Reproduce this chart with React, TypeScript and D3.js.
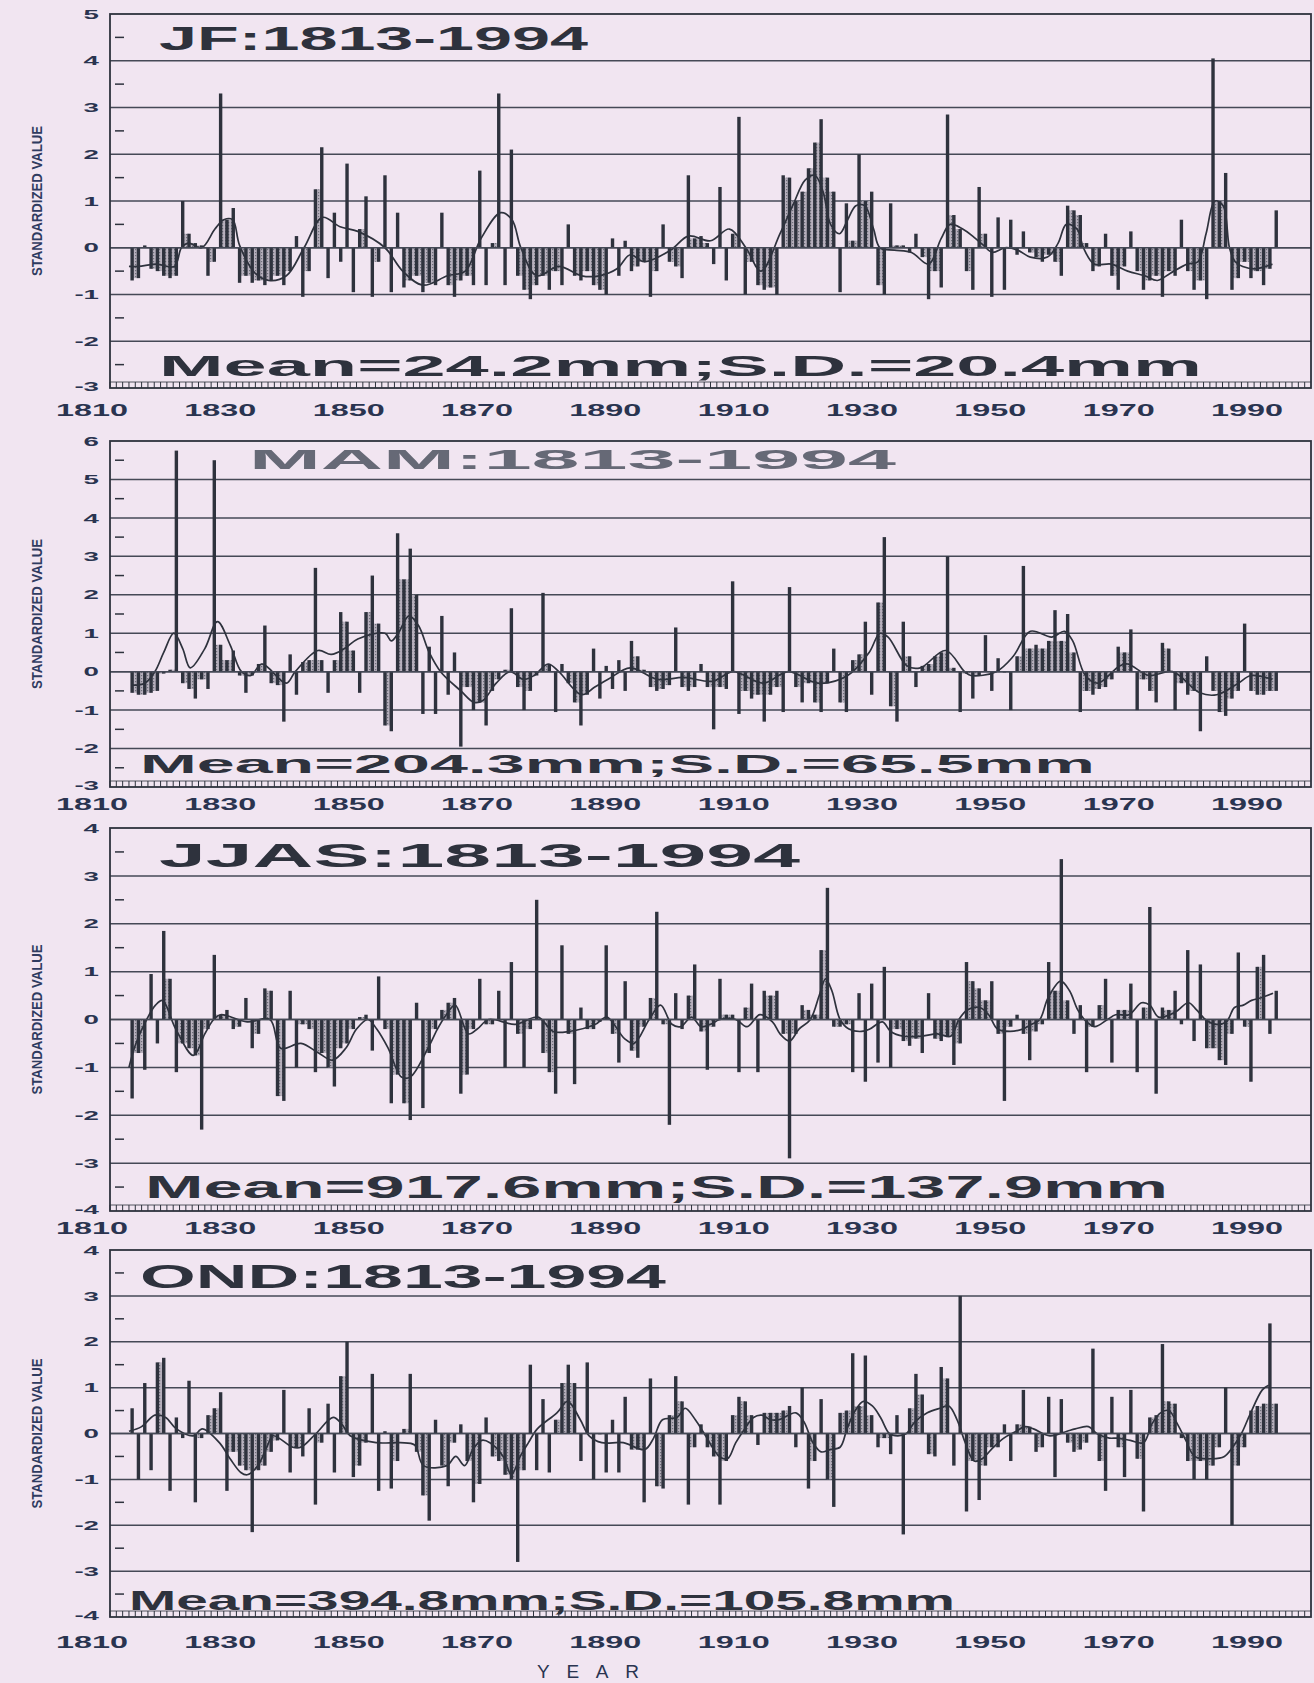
import React from 'react';
import * as d3 from 'd3';

const FIRST_YEAR = 1813;

const jfValues = [
  -0.7, -0.65, 0.05, -0.45, -0.5, -0.6, -0.65, -0.6, 1.0, 0.3,
  0.1, 0.05, -0.6, -0.3, 3.3, 0.6, 0.85, -0.75, -0.6, -0.75,
  -0.7, -0.8, -0.7, -0.6, -0.8, -0.5, 0.25, -1.05, -0.5, 1.25,
  2.15, -0.65, 0.75, -0.3, 1.8, -0.95, 0.4, 1.1, -1.05, -0.3,
  1.55, -0.95, 0.75, -0.85, -0.7, -0.6, -0.95, -0.75, -0.8, 0.75,
  -0.8, -1.05, -0.7, -0.6, -0.8, 1.65, -0.8, 0.1, 3.3, -0.8,
  2.1, -0.6, -0.9, -1.1, -0.8, -0.6, -0.9, -0.5, -0.8, 0.5,
  -0.6, -0.7, -0.5, -0.8, -0.9, -1.0, 0.2, -0.6, 0.15, -0.5,
  -0.4, -0.3, -1.05, -0.5, 0.5, -0.3, -0.4, -0.65, 1.55, 0.2,
  0.25, 0.1, -0.35, 1.3, -0.7, 0.3, 2.8, -1.0, -0.3, -0.8,
  -0.9, -0.85, -1.0, 1.55, 1.5, 1.0, 1.2, 1.7, 2.25, 2.75,
  1.5, 1.2, -0.95, 0.95, 0.15, 2.0, 1.0, 1.2, -0.8, -1.0,
  0.95, 0.05, 0.05, -0.1, 0.3, -0.2, -1.1, -0.5, -0.85, 2.85,
  0.7, 0.4, -0.5, -0.9, 1.3, 0.3, -1.05, 0.65, -0.9, 0.6,
  -0.15, 0.35, -0.1, -0.2, -0.3, -0.15, -0.3, -0.6, 0.9, 0.8,
  0.7, 0.1, -0.5, -0.4, 0.3, -0.6, -0.9, -0.4, 0.35, -0.5,
  -0.9, -0.7, -0.6, -1.05, -0.5, -0.6, 0.6, -0.5, -0.9, -0.7,
  -1.1, 4.05, 1.0, 1.6, -0.9, -0.65, -0.3, -0.65, -0.5, -0.8,
  -0.45, 0.8,
];

const mamValues = [
  -0.55, -0.6, -0.6, -0.55, -0.5, -0.05, 0.05, 5.75, -0.3, -0.45,
  -0.7, -0.2, -0.45, 5.5, 0.7, 0.3, 0.55, -0.1, -0.55, -0.1,
  0.2, 1.2, -0.3, -0.35, -1.3, 0.45, -0.6, 0.25, 0.3, 2.7,
  0.3, -0.55, 0.3, 1.55, 1.3, 0.55, -0.55, 1.55, 2.5, 1.25,
  -1.4, -1.55, 3.6, 2.4, 3.2, 2.0, -1.1, 0.65, -1.1, 1.45,
  -0.6, 0.5, -1.95, -0.4, -1.0, -0.8, -1.4, -0.5, -0.2, 0.05,
  1.65, -0.4, -1.0, -0.5, -0.1, 2.05, 0.2, -1.05, 0.2, -0.3,
  -0.8, -1.4, -0.6, 0.6, -0.7, 0.15, -0.45, 0.3, -0.5, 0.8,
  0.4, 0.05, -0.4, -0.5, -0.45, -0.35, 1.15, -0.4, -0.5, -0.4,
  0.2, -0.4, -1.5, -0.4, -0.45, 2.35, -1.1, -0.5, -0.7, -0.6,
  -1.3, -0.6, -0.4, -1.05, 2.2, -0.4, -0.8, -0.3, -0.8, -1.05,
  -0.3, 0.6, -0.8, -1.05, 0.3, 0.45, 1.3, -0.6, 1.8, 3.5,
  -0.9, -1.3, 1.3, 0.4, -0.4, 0.15, 0.2, 0.4, 0.5, 3.0,
  0.1, -1.05, -0.05, -0.7, -0.1, 0.95, -0.5, 0.35, 0.0, -1.0,
  0.4, 2.75, 0.6, 0.7, 0.6, 0.8, 1.6, 0.8, 1.5, 0.5,
  -1.05, -0.5, -0.6, -0.45, -0.4, -0.2, 0.65, 0.5, 1.1, -1.0,
  -0.2, -0.5, -0.8, 0.75, 0.6, -1.0, -0.3, -0.6, -0.5, -1.55,
  0.4, -0.5, -1.05, -1.15, -0.7, -0.5, 1.25, -0.5, -0.6, -0.6,
  -0.5, -0.5,
];

const jjasValues = [
  -1.65, -0.7, -1.05, 0.95, -0.5, 1.85, 0.85, -1.1, -0.5, -0.6,
  -0.75, -2.3, -0.2, 1.35, 0.1, 0.2, -0.2, -0.15, 0.45, -0.6,
  -0.3, 0.65, 0.6, -1.6, -1.7, 0.6, -1.0, -0.1, -0.2, -1.1,
  -0.7, -1.0, -1.4, -0.6, -0.5, -0.2, 0.05, 0.1, -0.65, 0.9,
  -0.2, -1.75, -1.15, -1.75, -2.1, 0.35, -1.85, -0.7, -0.2, 0.2,
  0.35, 0.45, -1.55, -1.15, -0.2, 0.85, -0.1, -0.1, 0.6, -1.0,
  1.2, -0.3, -1.0, -0.2, 2.5, -0.7, -1.1, -1.55, 1.55, -0.3,
  -1.35, 0.25, -0.2, -0.2, -0.05, 1.55, -0.3, -0.9, 0.8, -0.65,
  -0.8, -0.15, 0.45, 2.25, -0.1, -2.2, 0.55, -0.2, 0.5, 1.15,
  -0.25, -1.05, -0.15, 0.85, 0.1, 0.1, -1.1, 0.25, 0.75, -1.1,
  0.6, 0.5, 0.6, -0.3, -2.9, -0.3, 0.3, 0.2, 0.1, 1.45,
  2.75, -0.15, -0.15, -0.1, -1.1, 0.55, -1.3, 0.75, -0.9, 1.1,
  -1.0, -0.2, -0.45, -0.55, -0.4, -0.7, 0.55, -0.4, -0.45, -0.35,
  -0.95, -0.5, 1.2, 0.8, 0.65, 0.4, 0.8, -0.3, -1.7, -0.15,
  0.1, -0.3, -0.85, -0.25, -0.1, 1.2, 0.6, 3.35, 0.4, -0.3,
  0.3, -1.1, -0.15, 0.3, 0.85, -0.9, 0.2, 0.2, 0.75, -1.1,
  0.25, 2.35, -1.55, 0.25, 0.2, 0.6, -0.1, 1.45, -0.45, 1.15,
  -0.6, -0.6, -0.85, -0.95, -0.3, 1.4, -0.15, -1.3, 1.1, 1.35,
  -0.3, 0.6,
];

const ondValues = [
  0.55, -1.0, 1.1, -0.8, 1.55, 1.65, -1.25, 0.35, -0.1, 1.15,
  -1.5, -0.1, 0.4, 0.55, 0.9, -1.25, -0.4, -0.7, -0.8, -2.15,
  -0.8, -0.7, -0.4, -0.15, 0.95, -0.85, -0.3, -0.5, 0.55, -1.55,
  -0.2, 0.65, -0.85, 1.25, 2.0, -0.95, -0.7, -0.2, 1.3, -1.25,
  0.05, -1.2, -0.6, 0.1, 1.3, -0.4, -1.35, -1.9, 0.3, -0.7,
  -1.15, -0.2, 0.2, -0.6, -1.5, -1.1, 0.35, -0.5, -0.6, -0.9,
  -1.0, -2.8, -0.8, 1.5, -0.8, 0.75, -0.85, 0.3, 1.1, 1.5,
  1.1, -0.6, 1.55, -1.0, 0.0, -0.85, 0.3, -0.85, 0.8, -0.35,
  -0.35, -1.5, 1.2, -1.15, -1.2, 0.4, 1.25, 0.7, -1.55, -0.3,
  0.2, -0.3, -0.5, -1.55, -0.6, 0.4, 0.8, 0.7, 0.4, -0.25,
  0.45, 0.45, 0.45, 0.5, 0.6, -0.3, 1.0, -1.2, -0.6, 0.75,
  -1.0, -1.6, 0.45, 0.5, 1.75, 0.6, 1.7, 0.4, -0.3, -0.1,
  -0.45, 0.4, -2.2, 0.55, 1.3, 0.85, -0.45, -0.5, 1.45, 1.2,
  -0.7, 3.0, -1.7, -0.6, -1.45, -0.7, -0.3, -0.3, 0.2, -0.6,
  0.2, 0.95, 0.15, -0.4, -0.3, 0.8, -0.95, 0.75, -0.2, -0.4,
  -0.35, -0.2, 1.85, -0.6, -1.25, 0.8, -0.3, -0.95, 0.95, -0.55,
  -1.7, 0.35, 0.4, 1.95, 0.7, 0.65, -0.1, -0.6, -1.0, -0.6,
  -1.0, -0.7, -0.3, 1.0, -2.0, -0.7, -0.3, 0.5, 0.6, 0.65,
  2.4, 0.65,
];

// smoothed (low-pass) curves, read as [year, value] knots
const jfSmooth: [number, number][] = [
  [1813, -0.4], [1814.5, -0.4], [1817.4, -0.35], [1820.2, -0.4], [1821.3, 0.0], [1822.4, 0.1],
  [1824.5, 0.0], [1826.6, 0.4], [1828, 0.6], [1829.4, 0.6], [1830.5, 0.05], [1833, -0.55],
  [1835.1, -0.7], [1837.9, -0.6], [1840.7, 0.0], [1843.6, 0.65], [1846.4, 0.45], [1849.2, 0.35],
  [1853.5, 0.0], [1856.3, -0.5], [1859.5, -0.8], [1863.4, -0.6], [1866.2, -0.5], [1868.7, 0.2],
  [1871.8, 0.75], [1873.6, 0.6], [1875, 0.0], [1877.5, -0.6], [1881, -0.4], [1884.6, -0.6],
  [1887.4, -0.6], [1890.2, -0.45], [1892.3, -0.15], [1894.5, -0.3], [1898.7, -0.05], [1901.5, 0.25],
  [1905, 0.15], [1908, 0.4], [1910.6, 0.0], [1913, -0.5], [1916, 0.3], [1918, 0.9],
  [1920, 1.45], [1921.5, 1.55], [1922.8, 1.2], [1924, 0.5], [1925.4, 0.3], [1926.7, 0.6],
  [1928, 0.9], [1929.4, 0.9], [1930.8, 0.4], [1931.8, 0.0], [1934.1, -0.05], [1936.8, -0.1],
  [1939.5, -0.35], [1941.5, 0.2], [1942.9, 0.5], [1944.9, 0.4], [1946.9, 0.2], [1948.2, 0.05],
  [1949.6, -0.1], [1951.6, 0.0], [1953.6, -0.05], [1955.6, -0.2], [1958.3, -0.2], [1960, 0.1],
  [1961.3, 0.5], [1963, 0.4], [1964, 0.0], [1965.7, -0.35], [1968.4, -0.35], [1971, -0.5],
  [1973.7, -0.6], [1975.7, -0.7], [1977.7, -0.55], [1980.4, -0.35], [1982.1, -0.3], [1983.4, 0.3],
  [1984.8, 1.0], [1986.1, 0.9], [1987.1, 0.0], [1988, -0.3], [1989.2, -0.4], [1991.2, -0.45],
  [1993.9, -0.35],
];

const mamSmooth: [number, number][] = [
  [1813.5, -0.35], [1815.5, -0.3], [1817.1, 0.0], [1818.5, 0.5], [1820.1, 1.0], [1821.5, 0.6],
  [1822.7, 0.1], [1825, 0.6], [1827, 1.3], [1829, 0.7], [1830.8, 0.0], [1832.3, -0.1],
  [1834, 0.2], [1837.9, -0.3], [1839.3, 0.0], [1842.9, 0.55], [1845, 0.45], [1847.1, 0.6],
  [1849.2, 0.85], [1853.5, 1.0], [1854.5, 0.8], [1855.6, 1.0], [1857.3, 1.45], [1858.8, 1.2],
  [1860.5, 0.5], [1862.3, 0.0], [1865.5, -0.5], [1867.6, -0.8], [1869, -0.75], [1871.1, -0.3],
  [1873.3, 0.0], [1875.4, -0.2], [1877.1, -0.1], [1879.3, 0.2], [1881, 0.0], [1884.6, -0.6],
  [1886.7, -0.4], [1888.8, -0.2], [1892.3, 0.1], [1896.6, -0.2], [1900.8, -0.15], [1905.3, -0.25],
  [1908.6, 0.0], [1913.3, -0.3], [1917.3, 0.0], [1922, -0.3], [1926.7, -0.1], [1930.1, 0.5],
  [1931.8, 1.0], [1933.1, 0.9], [1936.1, 0.15], [1938.2, 0.1], [1942.2, 0.55], [1945.2, 0.0],
  [1946.2, -0.1], [1950.2, 0.0], [1952.9, 0.4], [1955.6, 1.05], [1959, 0.9], [1961, 1.05],
  [1962.3, 0.8], [1964.3, -0.1], [1966.3, -0.3], [1969.7, 0.15], [1971, 0.2], [1974.4, -0.1],
  [1978.1, 0.0], [1982.4, -0.55], [1985.1, -0.6], [1988.5, -0.3], [1990.5, -0.1], [1993.9, -0.2],
];

const jjasSmooth: [number, number][] = [
  [1813, -1.0], [1814.1, -0.5], [1815.8, 0.0], [1817.2, 0.3], [1818.3, 0.4], [1820.4, -0.2],
  [1823.2, -0.75], [1825, -0.3], [1826.4, 0.0], [1827.5, 0.1], [1831.7, -0.05], [1835.3, 0.0],
  [1837, -0.6], [1840.2, -0.5], [1843, -0.7], [1845.2, -0.85], [1847.3, -0.6], [1849, -0.2],
  [1850.8, 0.0], [1852.2, -0.2], [1854, -0.6], [1856.1, -1.2], [1857.5, -1.2], [1860.3, -0.6],
  [1861.8, -0.2], [1863.2, 0.1], [1864.6, 0.3], [1866.7, -0.3], [1868.1, -0.2], [1869.9, 0.0],
  [1874.1, -0.1], [1877.7, 0.05], [1880.1, -0.25], [1882.6, -0.25], [1886.8, -0.1], [1888.6, 0.05],
  [1891.4, -0.4], [1892.9, -0.5], [1895.3, 0.0], [1897.1, 0.3], [1898.9, -0.1], [1900.3, -0.15],
  [1902, 0.05], [1903.5, -0.15], [1905, -0.1], [1906.5, 0.0], [1909, 0.0], [1910.8, -0.15],
  [1912.8, 0.1], [1914.8, -0.05], [1916, -0.3], [1917.5, -0.45], [1919, -0.2], [1920.8, 0.0],
  [1922.2, 0.5], [1923.2, 0.85], [1924.2, 0.6], [1925.5, 0.0], [1926.9, -0.2], [1928.9, -0.25],
  [1930.2, -0.2], [1932.2, -0.05], [1933.5, -0.25], [1935.5, -0.35], [1938.2, -0.35], [1940.9, -0.3],
  [1943, -0.35], [1944.3, 0.0], [1945.6, 0.2], [1947.6, 0.25], [1949, 0.1], [1950.4, -0.2],
  [1952.4, -0.25], [1954.4, -0.2], [1955.8, -0.1], [1957.1, 0.0], [1958.4, 0.45], [1960.4, 0.8],
  [1961.8, 0.6], [1963.1, 0.2], [1964.5, -0.05], [1965.8, -0.15], [1967.8, 0.0], [1969.1, 0.1],
  [1971.2, 0.1], [1973.2, 0.35], [1974.5, 0.3], [1975.9, 0.05], [1978.5, 0.15], [1980.6, 0.35],
  [1981.9, 0.2], [1983.3, 0.0], [1984.9, -0.1], [1986.6, -0.05], [1987.9, 0.25], [1989.3, 0.3],
  [1990.6, 0.4], [1992, 0.45], [1994, 0.55],
];

const ondSmooth: [number, number][] = [
  [1813, 0.05], [1815, 0.15], [1817.1, 0.4], [1818.8, 0.35], [1820.5, 0.1], [1823.2, -0.05],
  [1824.6, 0.1], [1827.3, -0.2], [1829, -0.55], [1830.7, -0.85], [1831.7, -0.9], [1833.4, -0.7],
  [1834.8, -0.3], [1835.8, -0.05], [1838.9, -0.3], [1840.2, -0.3], [1842.6, 0.0], [1845.3, 0.35],
  [1846.7, 0.2], [1848, -0.05], [1852.1, -0.2], [1855.9, -0.2], [1858.2, -0.25], [1859.6, -0.7],
  [1863.3, -0.7], [1864.7, -0.5], [1866.1, -0.7], [1867.4, -0.35], [1868.8, -0.15], [1870.1, -0.2],
  [1872.2, -0.5], [1873.5, -0.9], [1874.9, -0.5], [1876.2, -0.2], [1877.6, 0.1], [1880.7, 0.45],
  [1882.4, 0.7], [1884.4, 0.3], [1885.8, -0.05], [1887.8, -0.2], [1891.2, -0.2], [1894.6, -0.35],
  [1896, -0.1], [1897.4, 0.3], [1899.7, 0.35], [1901, 0.55], [1902.6, 0.3], [1904, 0.0],
  [1906.4, -0.5], [1907.7, -0.55], [1909, -0.2], [1910.4, 0.1], [1911.8, 0.35], [1913.1, 0.4],
  [1914.5, 0.3], [1915.8, 0.3], [1918.5, 0.45], [1919.8, 0.25], [1921.2, -0.2], [1922.5, -0.4],
  [1923.9, -0.35], [1925.5, -0.3], [1926.6, 0.1], [1927.9, 0.5], [1929.2, 0.7], [1930.6, 0.6],
  [1931.9, 0.35], [1933.3, 0.0], [1934.6, -0.05], [1936, 0.0], [1937.3, 0.25], [1939.3, 0.45],
  [1941.3, 0.55], [1942.7, 0.6], [1944, 0.3], [1945.3, -0.2], [1946.7, -0.6], [1948, -0.55],
  [1949.4, -0.35], [1951.4, -0.1], [1953.4, 0.05], [1954.7, 0.15], [1956.1, 0.1], [1958.7, -0.05],
  [1961.4, 0.05], [1962.7, 0.1], [1964.8, 0.15], [1966.1, 0.0], [1968.1, -0.1], [1969.4, -0.1],
  [1971.4, -0.15], [1973.5, -0.2], [1974.8, 0.2], [1976.2, 0.45], [1977.5, 0.5], [1978.9, 0.2],
  [1980.2, -0.15], [1981.6, -0.5], [1984.3, -0.55], [1986.3, -0.5], [1987.6, -0.3], [1989, 0.0],
  [1990.3, 0.4], [1992.3, 0.95], [1993.3, 1.05],
];

const yearTickLabels = [1810, 1830, 1850, 1870, 1890, 1910, 1930, 1950, 1970, 1990];
const panelTitles = ['JF:1813-1994', 'MAM:1813-1994', 'JJAS:1813-1994', 'OND:1813-1994'];
const panelStats = [
  'Mean=24.2mm;S.D.=20.4mm',
  'Mean=204.3mm;S.D.=65.5mm',
  'Mean=917.6mm;S.D.=137.9mm',
  'Mean=394.8mm;S.D.=105.8mm',
];
const yDomains: [number, number][] = [[-3, 5], [-3, 6], [-4, 4], [-4, 4]];

const W = 1314;
const H = 1683;
const BG = '#f1e5f1';
const INK = '#2e323d';
const NAVY = '#2a3450';
const FONT = '"Liberation Sans", Arial, Helvetica, sans-serif';

const x = d3.scaleLinear().domain([1810, 2000]).range([110, 1311]);
const labelX = d3.scaleLinear().domain([1810, 1990]).range([92, 1247]);

const layouts = [
  { top: 14, bottom: 388, labelBase: 416, titleX: [159, 588], titleBase: 50, titleSize: 33, statX: [159, 1202], statBase: 376, statSize: 30, titleFill: INK },
  { top: 441, bottom: 787, labelBase: 810, titleX: [249, 896], titleBase: 469, titleSize: 27, statX: [140, 1095], statBase: 773, statSize: 26, titleFill: '#666976' },
  { top: 828, bottom: 1211, labelBase: 1234, titleX: [159, 800], titleBase: 867, titleSize: 33, statX: [145, 1168], statBase: 1198, statSize: 31, titleFill: INK },
  { top: 1250, bottom: 1617, labelBase: 1648, titleX: [140, 666], titleBase: 1288, titleSize: 33, statX: [129, 955], statBase: 1610, statSize: 28, titleFill: INK },
];

const panelValues = [jfValues, mamValues, jjasValues, ondValues];
const panelSmooth = [jfSmooth, mamSmooth, jjasSmooth, ondSmooth];

function Panel({ idx }: { idx: number }) {
  const L = layouts[idx];
  const values = panelValues[idx];
  const smooth = panelSmooth[idx];
  const [d0, d1] = yDomains[idx];
  const y = d3.scaleLinear().domain([d0, d1]).range([L.bottom, L.top]);
  const majors = d3.range(d0, d1 + 1);
  const inner = majors.filter((t) => t !== d0 && t !== d1);
  const halves = d3.range(d0 + 0.5, d1, 1);
  const x0 = x.range()[0];
  const x1 = x.range()[1];
  const line = d3
    .line<[number, number]>()
    .x((d) => x(d[0]))
    .y((d) => y(d[1]))
    .curve(d3.curveCatmullRom.alpha(0.5));
  const yearTicks = d3.range(1810, 2000);
  const barW = 3.4;

  // stipple between neighbouring bars of the same sign
  const fills: JSX.Element[] = [];
  for (let i = 0; i < values.length - 1; i++) {
    const a = values[i];
    const b = values[i + 1];
    if (a * b > 0) {
      const m = a > 0 ? Math.min(a, b) : Math.max(a, b);
      const xa = x(FIRST_YEAR + i + 0.5);
      const xb = x(FIRST_YEAR + i + 1.5);
      fills.push(
        <rect
          key={'f' + i}
          x={xa}
          width={xb - xa}
          y={Math.min(y(m), y(0))}
          height={Math.abs(y(m) - y(0))}
          fill="url(#stipple)"
        />
      );
    }
  }

  const midY = (L.top + L.bottom) / 2;

  return (
    <g>
      {inner.map((t) => (
        <line key={'g' + t} x1={x0} x2={x1} y1={y(t)} y2={y(t)} stroke="#454956" strokeWidth={1.5} />
      ))}
      {halves.map((t) => (
        <line key={'h' + t} x1={x0 + 5} x2={x0 + 14} y1={y(t)} y2={y(t)} stroke={INK} strokeWidth={1.5} />
      ))}
      {yearTicks.map((yr) => (
        <line key={'r' + yr} x1={x(yr)} x2={x(yr)} y1={L.bottom} y2={L.bottom - 6} stroke={INK} strokeWidth={1} />
      ))}
      <line x1={x0} x2={x1} y1={L.bottom - 6} y2={L.bottom - 6} stroke={INK} strokeWidth={0.8} />
      {fills}
      {values.map((v, i) => {
        const cx = x(FIRST_YEAR + i + 0.5);
        return (
          <rect
            key={'b' + i}
            x={cx - barW / 2}
            width={barW}
            y={Math.min(y(v), y(0))}
            height={Math.max(0.8, Math.abs(y(v) - y(0)))}
            fill={INK}
          />
        );
      })}
      <path d={line(smooth) || ''} fill="none" stroke={INK} strokeWidth={1.7} />
      <line x1={x0} x2={x1} y1={y(0)} y2={y(0)} stroke="#454956" strokeWidth={1.5} />
      <rect x={x0} y={L.top} width={x1 - x0} height={L.bottom - L.top} fill="none" stroke={INK} strokeWidth={1.8} />
      {majors.map((t) => (
        <text
          key={'yl' + t}
          transform={`translate(99,${y(t) - (t === d0 ? 2 : 0)}) scale(2.05,1)`}
          textAnchor="end"
          dominantBaseline="central"
          fontFamily={FONT}
          fontWeight="bold"
          fontSize={13.5}
          fill={NAVY}
        >
          {t < 0 ? '-' + Math.abs(t) : String(t)}
        </text>
      ))}
      {yearTickLabels.map((yr) => (
        <text
          key={'xl' + yr}
          x={labelX(yr) - 36}
          y={L.labelBase}
          textLength={72}
          lengthAdjust="spacingAndGlyphs"
          fontFamily={FONT}
          fontWeight="bold"
          fontSize={17}
          fill={NAVY}
        >
          {yr}
        </text>
      ))}
      <text
        x={L.titleX[0]}
        y={L.titleBase}
        textLength={L.titleX[1] - L.titleX[0]}
        lengthAdjust="spacingAndGlyphs"
        fontFamily={FONT}
        fontWeight="bold"
        fontSize={L.titleSize}
        fill={L.titleFill}
      >
        {panelTitles[idx]}
      </text>
      <text
        x={L.statX[0]}
        y={L.statBase}
        textLength={L.statX[1] - L.statX[0]}
        lengthAdjust="spacingAndGlyphs"
        fontFamily={FONT}
        fontWeight="bold"
        fontSize={L.statSize}
        fill={INK}
      >
        {panelStats[idx]}
      </text>
      <text
        transform={`translate(42,${midY}) rotate(-90)`}
        textAnchor="middle"
        textLength={150}
        lengthAdjust="spacingAndGlyphs"
        fontFamily={FONT}
        fontWeight="bold"
        fontSize={15}
        fill="#2f3b60"
      >
        STANDARDIZED VALUE
      </text>
    </g>
  );
}

export default function App() {
  return (
    <svg
      width={W}
      height={H}
      viewBox={`0 0 ${W} ${H}`}
      style={{ position: 'absolute', left: 0, top: 0, display: 'block' }}
    >
      <defs>
        <pattern id="stipple" width="3" height="3" patternUnits="userSpaceOnUse">
          <rect width="3" height="3" fill="#b7b0bd" />
          <rect x="0" y="0" width="1.2" height="1.2" fill="#6e6f7a" />
        </pattern>
      </defs>
      <rect width={W} height={H} fill={BG} />
      {[0, 1, 2, 3].map((i) => (
        <Panel key={i} idx={i} />
      ))}
      <text
        x={537}
        y={1678}
        textLength={102}
        lengthAdjust="spacing"
        fontFamily={FONT}
        fontSize={19}
        fill={NAVY}
      >
        YEAR
      </text>
    </svg>
  );
}
